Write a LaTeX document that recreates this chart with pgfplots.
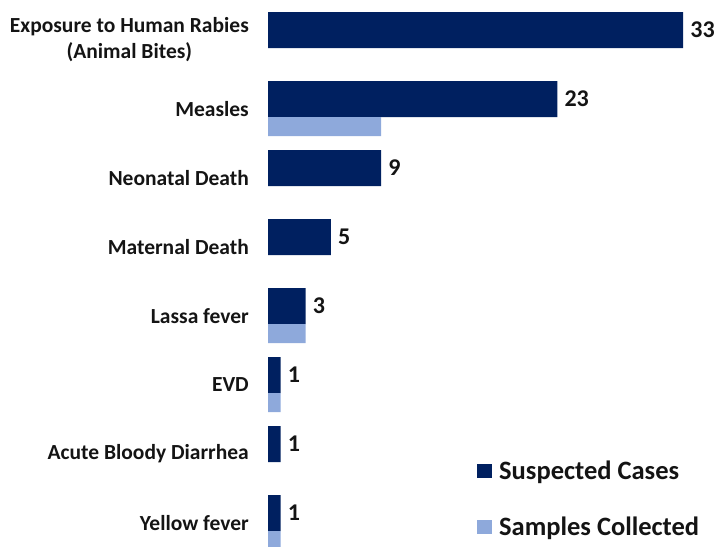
\documentclass[border=0pt]{standalone}
\usepackage{pgfplots}
\pgfplotsset{compat=1.18}
\usepackage{fontspec}
\setmainfont{Carlito}
\definecolor{darkbar}{HTML}{002060}
\definecolor{lightbar}{HTML}{8EA9DB}
\definecolor{txt}{HTML}{141414}
\begin{document}
\begin{tikzpicture}
\path[use as bounding box] (0,0) rectangle (714pt,546pt);
\begin{axis}[
  at={(268pt,0pt)}, anchor=south west,
  scale only axis, width=446pt, height=546pt,
  xmin=0, xmax=35.45, ymin=-0.333, ymax=7.58,
  /pgf/number format/assume math mode=true,
  axis line style={draw=none},
  major tick length=0pt,
  xtick=\empty,
  ytick={0,1,2,3,4,5,6,7},
  yticklabels={Yellow fever, Acute Bloody Diarrhea, EVD, Lassa fever, Maternal Death, Neonatal Death, Measles, {Exposure to Human Rabies\\(Animal Bites)}},
  yticklabel style={font=\fontsize{21.5}{26}\selectfont\bfseries, text=txt, align=center, inner sep=0pt, xshift=-19pt},
  xbar,
  legend image code/.code={\fill[#1] (0pt,-7pt) rectangle (15pt,7pt); \path (22pt,0pt);},
  legend style={at={(rel axis cs:0.4686,0.157)}, anchor=north west, draw=none, fill=none,
    font=\fontsize{26.5}{26.5}\selectfont\bfseries, text=txt, row sep=36pt, inner sep=0pt,
    nodes={inner sep=0pt}},
  legend cell align=left,
]
\addplot[fill=darkbar, draw=none, bar width=0.522, bar shift=0.145,
  nodes near coords, nodes near coords style={font=\fontsize{24}{24}\selectfont\bfseries, text=txt, anchor=west, inner sep=1pt, xshift=6pt}]
  coordinates {(1,0) (1,1) (1,2) (3,3) (5,4) (9,5) (23,6) (33,7)};
\addlegendentry{Suspected Cases}
\addplot[fill=lightbar, draw=none, bar width=0.275, bar shift=-0.254]
  coordinates {(1,0) (1,2) (3,3) (9,6)};
\addlegendentry{Samples Collected}
\end{axis}
\end{tikzpicture}
\end{document}
